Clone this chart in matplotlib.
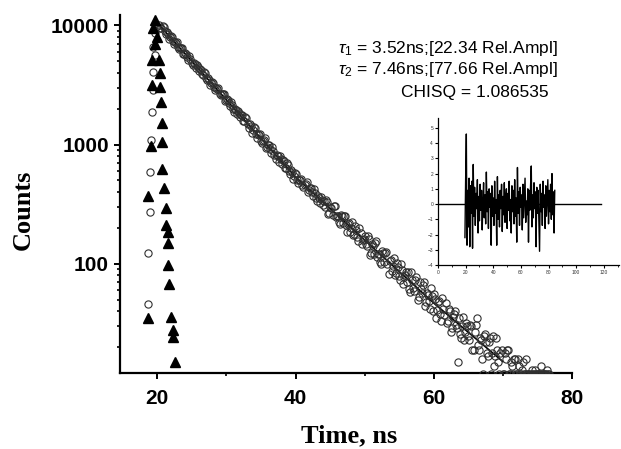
import matplotlib
matplotlib.use("Agg")
import matplotlib.pyplot as plt
from matplotlib.ticker import FixedLocator, NullFormatter, LogLocator

# --- Dados ---
# decaimento (círculos abertos), tempo em ns e contagens - canais pares
tempo_decaimento = [
    20.3, 20.6, 20.9, 21.2, 21.5, 21.8, 22.1, 22.4, 22.7, 23.0,
    23.3, 23.6, 23.9, 24.2, 24.5, 24.8, 25.1, 25.4, 25.7, 26.0,
    26.3, 26.6, 26.9, 27.2, 27.5, 27.8, 28.1, 28.4, 28.7, 29.0,
    29.3, 29.6, 29.9, 30.2, 30.5, 30.8, 31.1, 31.4, 31.7, 32.0,
    32.3, 32.6, 32.9, 33.2, 33.5, 33.8, 34.1, 34.4, 34.7, 35.0,
    35.3, 35.6, 35.9, 36.2, 36.5, 36.8, 37.1, 37.4, 37.7, 38.0,
    38.3, 38.6, 38.9, 39.2, 39.5, 39.8, 40.1, 40.4, 40.7, 41.0,
    41.3, 41.6, 41.9, 42.2, 42.5, 42.8, 43.1, 43.4, 43.7, 44.0,
    44.3, 44.6, 44.9, 45.2, 45.5, 45.8, 46.1, 46.4, 46.7, 47.0,
    47.3, 47.6, 47.9, 48.2, 48.5, 48.8, 49.1, 49.4, 49.7, 50.0,
    50.3, 50.6, 50.9, 51.2, 51.5, 51.8, 52.1, 52.4, 52.7, 53.0,
    53.3, 53.6, 53.9, 54.2, 54.5, 54.8, 55.1, 55.4, 55.7, 56.0,
    56.3, 56.6, 56.9, 57.2, 57.5, 57.8, 58.1, 58.4, 58.7, 59.0,
    59.3, 59.6, 59.9, 60.2, 60.5, 60.8, 61.1, 61.4, 61.7, 62.0,
    62.3, 62.6, 62.9, 63.2, 63.5, 63.8, 64.1, 64.4, 64.7, 65.0,
    65.3, 65.6, 65.9, 66.2, 66.5, 66.8, 67.1, 67.4, 67.7, 68.0,
    68.3, 68.6, 68.9, 69.2, 69.5, 69.8, 70.1, 70.4, 70.7, 71.0,
    71.3, 71.6, 71.9, 72.2, 72.5, 72.8, 73.1, 73.4, 73.7, 74.0,
    74.3, 74.6, 74.9, 75.2, 75.5, 75.8, 76.1, 76.4, 76.7,
]
contagens_decaimento = [
    10000, 9373, 9604, 8398, 8451, 7922, 7959, 6954, 7141, 6494,
    6403, 6491, 5740, 5770, 5143, 5226, 4606, 4734, 4661, 4158,
    4223, 3843, 3938, 3444, 3464, 3248, 3264, 2851, 2927, 2663,
    2625, 2662, 2353, 2366, 2108, 2143, 1888, 1941, 1912, 1705,
    1757, 1560, 1653, 1383, 1428, 1325, 1364, 1139, 1212, 1075,
    1077, 1123, 955, 984, 847, 888, 750, 800, 799, 689,
    721, 640, 678, 567, 586, 544, 564, 475, 509, 455,
    459, 482, 413, 429, 372, 392, 335, 359, 361, 314,
    301, 330, 265, 293, 306, 245, 254, 216, 250, 250,
    210, 215, 186, 223, 178, 191, 157, 181, 160, 171,
    142, 161, 123, 141, 151, 115, 122, 100, 123, 124,
    100, 105, 87, 112, 84, 94, 73, 89, 77, 85,
    85, 58, 73, 59, 78, 53, 62, 67, 44, 57,
    49, 63, 40, 51, 41, 49, 33, 42, 47, 33,
    40, 29, 38, 31, 15, 26, 30, 23, 32, 25,
    31, 19, 27, 35, 19, 23, 12, 26, 18, 22,
    12, 25, 17, 19, 12, 19, 12, 16, 19, 12,
    14, 16, 12, 16, 12, 13, 12, 16, 12, 12,
    12, 13, 12, 12, 14, 12, 12, 13, 12,
]

# decaimento - canais ímpares
tempo_decaimento_b = [
    20.45, 20.75, 21.05, 21.35, 21.65, 21.95, 22.25, 22.55, 22.85, 23.15,
    23.45, 23.75, 24.05, 24.35, 24.65, 24.95, 25.25, 25.55, 25.85, 26.15,
    26.45, 26.75, 27.05, 27.35, 27.65, 27.95, 28.25, 28.55, 28.85, 29.15,
    29.45, 29.75, 30.05, 30.35, 30.65, 30.95, 31.25, 31.55, 31.85, 32.15,
    32.45, 32.75, 33.05, 33.35, 33.65, 33.95, 34.25, 34.55, 34.85, 35.15,
    35.45, 35.75, 36.05, 36.35, 36.65, 36.95, 37.25, 37.55, 37.85, 38.15,
    38.45, 38.75, 39.05, 39.35, 39.65, 39.95, 40.25, 40.55, 40.85, 41.15,
    41.45, 41.75, 42.05, 42.35, 42.65, 42.95, 43.25, 43.55, 43.85, 44.15,
    44.45, 44.75, 45.05, 45.35, 45.65, 45.95, 46.25, 46.55, 46.85, 47.15,
    47.45, 47.75, 48.05, 48.35, 48.65, 48.95, 49.25, 49.55, 49.85, 50.15,
    50.45, 50.75, 51.05, 51.35, 51.65, 51.95, 52.25, 52.55, 52.85, 53.15,
    53.45, 53.75, 54.05, 54.35, 54.65, 54.95, 55.25, 55.55, 55.85, 56.15,
    56.45, 56.75, 57.05, 57.35, 57.65, 57.95, 58.25, 58.55, 58.85, 59.15,
    59.45, 59.75, 60.05, 60.35, 60.65, 60.95, 61.25, 61.55, 61.85, 62.15,
    62.45, 62.75, 63.05, 63.35, 63.65, 63.95, 64.25, 64.55, 64.85, 65.15,
    65.45, 65.75, 66.05, 66.35, 66.65, 66.95, 67.25, 67.55, 67.85, 68.15,
    68.45, 68.75, 69.05, 69.35, 69.65, 69.95, 70.25, 70.55, 70.85, 71.15,
    71.45, 71.75, 72.05, 72.35, 72.65, 72.95, 73.25, 73.55, 73.85, 74.15,
    74.45, 74.75, 75.05, 75.35, 75.65, 75.95, 76.25, 76.55,
]
contagens_decaimento_b = [
    9487, 9822, 8857, 8727, 7692, 8139, 7335, 7231, 7189, 6286,
    6450, 5690, 5843, 5424, 5553, 4861, 4840, 4401, 4471, 4319,
    3890, 4027, 3631, 3578, 3154, 3337, 3008, 2964, 2947, 2578,
    2644, 2333, 2395, 2224, 2277, 1993, 1985, 1805, 1834, 1771,
    1562, 1699, 1474, 1482, 1252, 1394, 1221, 1216, 1232, 1035,
    1095, 926, 992, 912, 960, 809, 822, 717, 759, 740,
    641, 697, 605, 608, 513, 572, 505, 508, 519, 439,
    468, 399, 431, 399, 424, 359, 368, 323, 345, 339,
    342, 264, 301, 259, 306, 250, 224, 259, 220, 250,
    185, 219, 200, 175, 206, 168, 199, 148, 163, 148,
    170, 119, 146, 120, 155, 120, 103, 129, 104, 126,
    83, 108, 96, 81, 102, 79, 100, 68, 80, 71,
    62, 85, 63, 73, 50, 71, 57, 70, 48, 55,
    42, 54, 56, 35, 48, 38, 52, 37, 32, 42,
    27, 36, 40, 29, 35, 24, 36, 27, 30, 23,
    30, 19, 31, 21, 24, 16, 25, 22, 17, 24,
    18, 14, 24, 15, 18, 12, 18, 19, 12, 15,
    12, 16, 12, 14, 12, 15, 12, 12, 12, 13,
    12, 12, 12, 12, 12, 12, 12, 12,
]

# subida do decaimento (círculos abertos antes do pico)
tempo_subida = [19.8, 19.6, 19.4, 19.6, 19.4, 19.4, 19.3, 19.1, 19.0, 19.0, 18.7, 18.7]
contagens_subida = [9600, 8560, 6560, 5620, 4060, 2870, 1860, 1100, 590, 270, 123, 46]

# resposta do instrumento (triângulos cheios)
tempo_irf = [19.7, 19.4, 19.9, 19.6, 19.3, 20.3, 20.4, 19.3, 20.4, 20.6, 20.7, 19.1, 20.7,
             20.7, 20.9, 18.7, 21.2, 21.3, 21.5, 21.5, 21.6, 21.75, 18.7, 22.0, 22.2, 22.2, 22.5]
contagens_irf = [11000, 9440, 8000, 6900, 5130, 5130, 3980, 3160, 3050, 2280, 1520, 980, 1040,
                 620, 435, 370, 295, 210, 185, 150, 98, 68, 35, 36, 28, 24.5, 15]

# curva de ajuste
tempo_ajuste = [20.3, 40.0, 60.0, 70.0]
contagens_ajuste = [10000, 534, 47, 15.2]

# resíduos (gráfico inserido)
canal_residuo = [
    19.5, 20.0, 20.5, 21.0, 21.5, 22.0, 22.5, 23.0, 23.5, 24.0,
    24.5, 25.0, 25.5, 26.0, 26.5, 27.0, 27.5, 28.0, 28.5, 29.0,
    29.5, 30.0, 30.5, 31.0, 31.5, 32.0, 32.5, 33.0, 33.5, 34.0,
    34.5, 35.0, 35.5, 36.0, 36.5, 37.0, 37.5, 38.0, 38.5, 39.0,
    39.5, 40.0, 40.5, 41.0, 41.5, 42.0, 42.5, 43.0, 43.5, 44.0,
    44.5, 45.0, 45.5, 46.0, 46.5, 47.0, 47.5, 48.0, 48.5, 49.0,
    49.5, 50.0, 50.5, 51.0, 51.5, 52.0, 52.5, 53.0, 53.5, 54.0,
    54.5, 55.0, 55.5, 56.0, 56.5, 57.0, 57.5, 58.0, 58.5, 59.0,
    59.5, 60.0, 60.5, 61.0, 61.5, 62.0, 62.5, 63.0, 63.5, 64.0,
    64.5, 65.0, 65.5, 66.0, 66.5, 67.0, 67.5, 68.0, 68.5, 69.0,
    69.5, 70.0, 70.5, 71.0, 71.5, 72.0, 72.5, 73.0, 73.5, 74.0,
    74.5, 75.0, 75.5, 76.0, 76.5, 77.0, 77.5, 78.0, 78.5, 79.0,
    79.5, 80.0, 80.5, 81.0, 81.5, 82.0, 82.5, 83.0, 83.5, 84.0,
    84.5,
]
residuo = [
    -2.2, 1.6, 4.6, -2.7, 0.9, -1.5, 1.7, -2.8, 1.2, -0.6,
    1.5, -2.9, 2.6, -0.8, 1.1, -1.4, 0.7, -0.3, 1.6, -1.9,
    0.5, -1.1, 1.3, -0.4, 0.9, -1.7, 0.2, 1.4, -0.9, 0.6,
    -1.3, 2.1, -0.5, 0.8, -1.6, 1.0, -0.2, 0.7, -2.7, 1.2,
    -0.8, 0.4, -1.4, 1.5, -0.6, 0.3, -2.7, 1.8, -1.0, 0.6,
    -1.5, 0.9, -0.3, 1.3, -1.8, 0.5, -0.7, 1.4, -1.2, 0.2,
    1.0, -1.6, 0.7, -0.4, 1.5, -1.1, 0.3, -1.9, 1.2, -0.5,
    0.9, -1.3, 1.6, -0.8, 0.4, -2.5, 2.4, -0.6, 0.8, -1.4,
    1.1, -0.2, 0.6, -1.7, 1.3, -0.9, 0.5, 1.7, -1.2, 0.2,
    -0.7, 1.0, -2.5, 0.9, -0.4, 1.2, 2.5, -1.5, 0.6, -0.9,
    1.4, -0.3, 0.8, -2.8, 1.1, -0.6, 0.9, -1.2, -3.1, 1.3,
    -0.5, 0.7, -1.4, 1.5, -0.2, 0.6, -1.6, 1.2, -0.8, 0.4,
    1.6, -1.3, 0.9, -0.5, 1.3, -1.0, 2.0, -0.7, 0.8, -1.9,
    0.9,
]
linha_zero = [0, 118]

rotulos_texto = [
    r"$\tau_1$ = 3.52ns;[22.34 Rel.Ampl]",
    r"$\tau_2$ = 7.46ns;[77.66 Rel.Ampl]",
    "CHISQ = 1.086535",
]

# --- Figura ---
plt.rcParams["font.family"] = ["Liberation Sans", "DejaVu Sans"]
plt.rcParams["mathtext.fontset"] = "custom"
plt.rcParams["mathtext.rm"] = "Liberation Sans"
plt.rcParams["mathtext.it"] = "Liberation Sans:italic"

fig = plt.figure(figsize=(6.21, 4.49), dpi=100)
W, H = 621, 449

ax = fig.add_axes([120 / W, 1 - 373 / H, 452 / W, 358 / H])
ax.plot(tempo_ajuste, contagens_ajuste, color="black", lw=1.2, zorder=2)

estilo_circulo = dict(linestyle="none", marker="o", markersize=5.2,
                      markerfacecolor="none", markeredgecolor="#303030",
                      markeredgewidth=0.8, zorder=3)
ax.plot(tempo_decaimento, contagens_decaimento, **estilo_circulo)
ax.plot(tempo_decaimento_b, contagens_decaimento_b, **estilo_circulo)
ax.plot(tempo_subida, contagens_subida, **estilo_circulo)
ax.plot(tempo_irf, contagens_irf, linestyle="none", marker="^", markersize=6.5,
        color="black", zorder=4)

ax.set_yscale("log")
ax.set_xlim(14.6, 80)
ax.set_ylim(12.2, 12150)

ax.xaxis.set_major_locator(FixedLocator([20, 40, 60, 80]))
ax.xaxis.set_minor_locator(FixedLocator([30, 50, 70]))
ax.yaxis.set_major_locator(FixedLocator([100, 1000, 10000]))
ax.yaxis.set_minor_locator(LogLocator(base=10, subs=range(2, 10)))
ax.yaxis.set_minor_formatter(NullFormatter())
ax.set_yticklabels(["100", "1000", "10000"])
ax.set_xticklabels(["20", "40", "60", "80"])

for s in ["top", "right"]:
    ax.spines[s].set_visible(False)
for s in ["left", "bottom"]:
    ax.spines[s].set_linewidth(1.6)

ax.tick_params(axis="both", which="major", direction="out", length=4.5, width=1.4,
               labelsize=15)
ax.tick_params(axis="both", which="minor", direction="out", length=2.5, width=1.2)
ax.tick_params(axis="x", which="major", pad=7)
ax.tick_params(axis="y", which="major", pad=3.5)
for lab in ax.get_xticklabels() + ax.get_yticklabels():
    lab.set_fontweight("bold")

fig.text(349 / W, 1 - 442 / H, "Time, ns", family="Liberation Serif", weight="bold",
         fontsize=19, ha="center", va="baseline")
fig.text(23 / W, 1 - 210 / H, "Counts", family="Liberation Serif", weight="bold",
         fontsize=19, ha="center", va="center", rotation=90)

fig.text(338 / W, 1 - 53 / H, rotulos_texto[0], fontsize=12.5, ha="left", va="baseline")
fig.text(338 / W, 1 - 74 / H, rotulos_texto[1], fontsize=12.5, ha="left", va="baseline")
fig.text(401 / W, 1 - 97 / H, rotulos_texto[2], fontsize=12.5, ha="left", va="baseline")

# --- Gráfico inserido: resíduos ---
ax2 = fig.add_axes([438 / W, 1 - 265 / H, 181 / W, 147 / H])
ax2.patch.set_alpha(0)
ax2.plot(linha_zero, [0, 0], color="black", lw=1.0)
ax2.plot(canal_residuo, residuo, color="black", lw=1.0)
ax2.set_xlim(0, 131)
ax2.set_ylim(-4, 5.65)
ax2.xaxis.set_major_locator(FixedLocator([0, 20, 40, 60, 80, 100, 120]))
ax2.xaxis.set_minor_locator(FixedLocator([10, 30, 50, 70, 90, 110, 130]))
ax2.yaxis.set_major_locator(FixedLocator([-4, -3, -2, -1, 0, 1, 2, 3, 4, 5]))
for s in ["top", "right"]:
    ax2.spines[s].set_visible(False)
for s in ["left", "bottom"]:
    ax2.spines[s].set_linewidth(0.9)
ax2.tick_params(axis="both", which="major", direction="out", length=2, width=0.8,
                labelsize=3.5, pad=1.5, labelcolor="#333333")
ax2.tick_params(axis="both", which="minor", direction="out", length=1.2, width=0.6)

fig.savefig("out.png", dpi=100)
